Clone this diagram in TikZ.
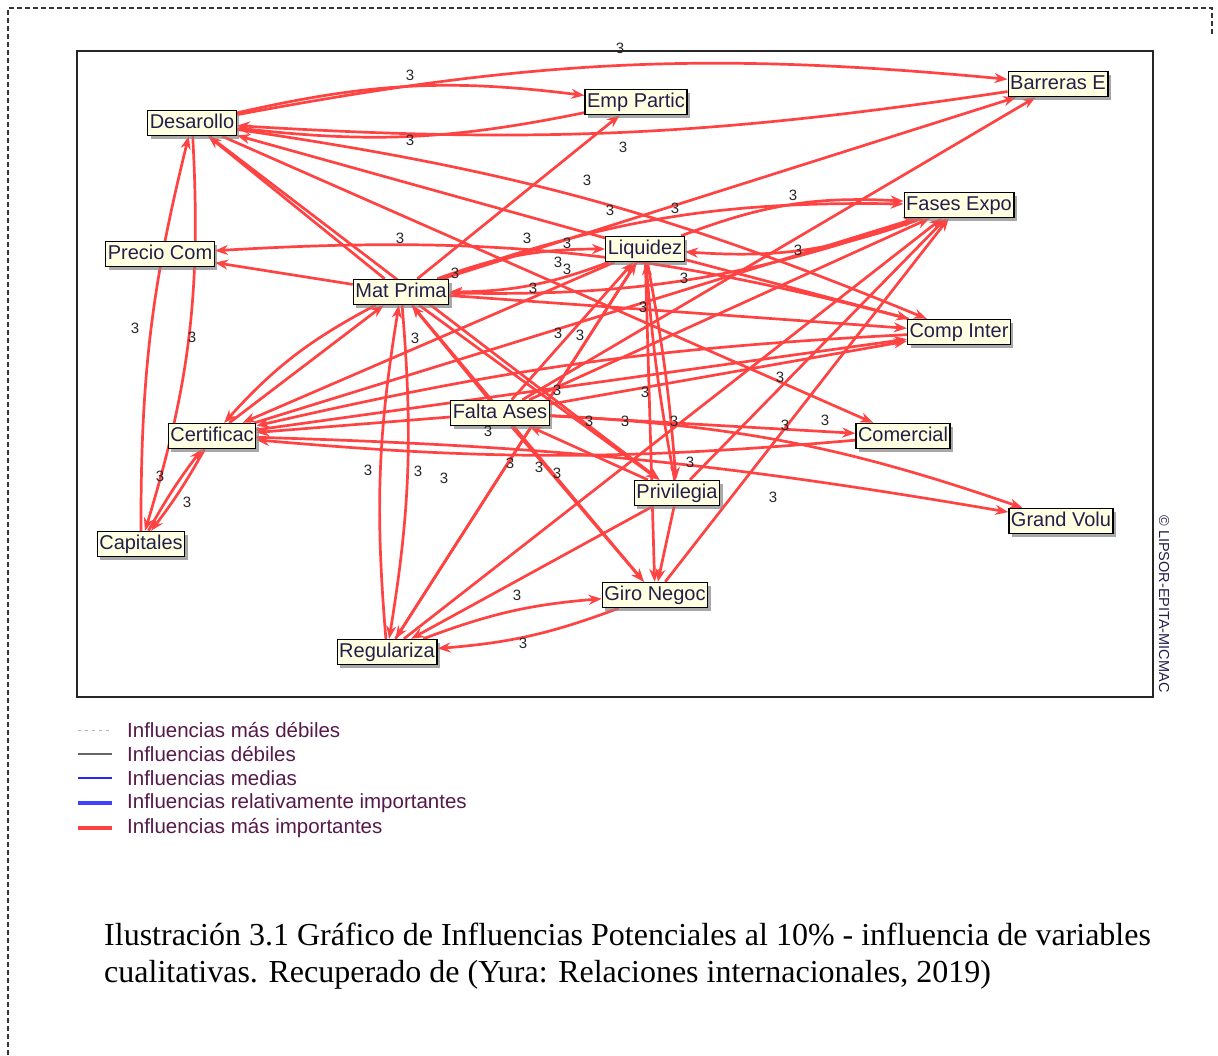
\documentclass[tikz,border=0pt]{standalone}
\usepackage{fontspec}
\setmainfont{Liberation Serif}
\newfontfamily\arial{Liberation Sans}
\usetikzlibrary{arrows.meta,shadows}
\definecolor{edgered}{RGB}{255,66,66}
\definecolor{boxfill}{RGB}{255,255,226}
\definecolor{txtdark}{RGB}{35,30,75}
\definecolor{legtxt}{RGB}{85,25,75}
\begin{document}
\begin{tikzpicture}[x=1pt,y=1pt,
  var/.style={draw=black, line width=1.4pt, fill=boxfill, inner xsep=2pt, inner ysep=3pt,
    text height=14.5pt, text depth=4.5pt, font=\arial\fontsize{20}{20}\selectfont, text=txtdark,
    drop shadow={shadow xshift=3pt, shadow yshift=-3pt, fill=black!45}},
  e/.style={draw=edgered, line width=2.7pt, -{Stealth[length=13pt,width=10pt]}},
  lab/.style={font=\arial\fontsize{15}{15}\selectfont, text=black!85, inner sep=0pt},
  legtext/.style={font=\arial\fontsize{20.5}{20.5}\selectfont, text=legtxt, anchor=west, inner sep=0pt},
  captext/.style={font=\fontsize{32}{32}\selectfont, anchor=base west, inner sep=0pt},
  frame/.style={draw=black!80, line width=1.2pt, dash pattern=on 5pt off 3pt}]
\useasboundingbox (0,0) rectangle (1218,-1055);
% outer dashed frame
\draw[frame] (8,-1055) -- (8,-8) -- (1212,-8) -- (1212,-35);
% inner frame
\draw[black!85, line width=1.5pt] (77,-51) rectangle (1153,-697);
\begin{scope}[every node/.style={var}]
\node (D)  at (192,-123) {Desarollo};
\node (EP) at (636,-102) {Emp Partic};
\node (BE) at (1058,-84) {Barreras E};
\node (FE) at (959,-205) {Fases Expo};
\node (PC) at (160,-254) {Precio Com};
\node (L)  at (645,-249) {Liquidez};
\node (MP) at (401,-292) {Mat Prima};
\node (CI) at (959,-332) {Comp Inter};
\node (FA) at (500,-413) {Falta Ases};
\node (Ce) at (212,-436) {Certificac};
\node (Co) at (903,-436) {Comercial};
\node (P)  at (677,-493) {Privilegia};
\node (GV) at (1061,-521) {Grand Volu};
\node (Ca) at (141,-544) {Capitales};
\node (GN) at (655,-595) {Giro Negoc};
\node (R)  at (387,-652) {Regulariza};
\end{scope}
% connectors
\draw[e] (D) to[bend left=10] (EP);
\draw[e] (EP) to[bend left=9] (D);
\draw[e] (D) to[bend left=8] (BE);
\draw[e] (BE) to[bend left=6] (D);
\draw[e] (D) to[bend left=7] (CI);
\draw[e] (D) -- (Co);
\draw[e] (D) -- (P);
\draw[e] (MP) -- (D);
\draw[e] (L) -- (D);
\draw[e] (Ca) to[bend left=7] (D);
\draw[e] (D) to[bend left=10] (Ca);
\draw[e] (Ce) to[bend left=4] (Ca);
\draw[e] (Ca) to[bend left=4] (Ce);
\draw[e] (MP) -- (PC);
\draw[e] (CI) to[bend right=9] (PC);
\draw[e] (MP) -- (EP);
\draw[e] (MP) -- (BE);
\draw[e] (MP) to[bend left=10] (FE);
\draw[e] (FE) to[bend left=10] (MP);
\draw[e] (L) to[bend left=10] (MP);
\draw[e] (MP) to[bend left=10] (L);
\draw[e] (L) to[bend left=12] (FE);
\draw[e] (FE) to[bend left=12] (L);
\draw[e] (MP) -- (CI);
\draw[e] (MP) to[bend right=10] (Ce);
\draw[e] (Ce) -- (MP);
\draw[e] (MP) to[bend left=7] (R);
\draw[e] (R) to[bend left=7] (MP);
\draw[e] (FA) -- (MP);
\draw[e] (MP) -- (P);
\draw[e] (MP) -- (GN);
\draw[e] (L) -- (Ce);
\draw[e] (L) -- (R);
\draw[e] (R) -- (L);
\draw[e] (L) to[bend left=3] (P);
\draw[e] (P) to[bend left=3] (L);
\draw[e] (L) -- (GN);
\draw[e] (L) -- (CI);
\draw[e] (Ce) -- (FE);
\draw[e] (Ce) -- (CI);
\draw[e] (CI) to[bend right=5] (Ce);
\draw[e] (FA) -- (Ce);
\draw[e] (FA) -- (Co);
\draw[e] (FA) -- (CI);
\draw[e] (FA) -- (FE);
\draw[e] (FA) to[bend left=8] (GV);
\draw[e] (Ce) to[bend left=4] (GV);
\draw[e] (Co) to[bend left=5] (Ce);
\draw[e] (P) -- (FA);
\draw[e] (FA) -- (GN);
\draw[e] (FA) -- (L);
\draw[e] (FA) -- (BE);
\draw[e] (P) -- (GN);
\draw[e] (P) -- (R);
\draw[e] (GN) -- (FE);
\draw[e] (P) -- (FE);
\draw[e] (R) -- (FE);
\draw[e] (R) to[bend left=8] (GN);
\draw[e] (GN) to[bend left=8] (R);
% nodes redrawn on top of the connectors
\begin{scope}[every node/.style={var}]
\node at (D)  {Desarollo};
\node at (EP) {Emp Partic};
\node at (BE) {Barreras E};
\node at (FE) {Fases Expo};
\node at (PC) {Precio Com};
\node at (L)  {Liquidez};
\node at (MP) {Mat Prima};
\node at (CI) {Comp Inter};
\node at (FA) {Falta Ases};
\node at (Ce) {Certificac};
\node at (Co) {Comercial};
\node at (P)  {Privilegia};
\node at (GV) {Grand Volu};
\node at (Ca) {Capitales};
\node at (GN) {Giro Negoc};
\node at (R)  {Regulariza};
\end{scope}
% value labels
\foreach \x/\y [count=\i] in {620/48,410/75,410/140,623/147,587/180,610/210,675/208,793/195,
  400/238,527/238,567/243,798/250,558/262,567/269,455/273,684/278,533/288,643/307,
  135/328,192/337,415/338,558/333,580/335,780/377,557/390,645/392,488/431,589/421,
  625/421,674/421,785/425,825/420,368/470,418/471,444/478,510/463,539/467,557/473,
  690/462,773/497,160/476,187/502,517/595,523/643}
  \node[lab] (v\i) at (\x,-\y) {3};
% copyright
\node[font=\arial\fontsize{14.5}{14.5}\selectfont, text=txtdark, rotate=-90, inner sep=0pt] (cp) at (1164,-604) {\textcopyright\ LIPSOR-EPITA-MICMAC};
% legend
\coordinate (la1) at (78,-730); \coordinate (lb1) at (112,-730);
\coordinate (la2) at (78,-754); \coordinate (lb2) at (112,-754);
\coordinate (la3) at (78,-778); \coordinate (lb3) at (112,-778);
\coordinate (la4) at (78,-803); \coordinate (lb4) at (112,-803);
\coordinate (la5) at (78,-828); \coordinate (lb5) at (112,-828);
\draw[black!30, line width=1pt, dash pattern=on 3pt off 4pt] (la1) -- (lb1);
\draw[black!60, line width=1.3pt] (la2) -- (lb2);
\draw[blue!85, line width=1.2pt] (la3) -- (lb3);
\draw[blue!75, line width=3.2pt] (la4) -- (lb4);
\draw[edgered, line width=3.2pt] (la5) -- (lb5);
\node[legtext] (t1) at (127,-730) {Influencias más débiles};
\node[legtext] (t2) at (127,-754) {Influencias débiles};
\node[legtext] (t3) at (127,-778) {Influencias medias};
\node[legtext] (t4) at (127,-803) {Influencias relativamente importantes};
\node[legtext] (t5) at (127,-828) {Influencias más importantes};
% caption
\node[captext] (c1) at (104,-945) {Ilustración 3.1 Gráfico de Influencias Potenciales al 10\% - influencia de variables};
\node[captext] (c2) at (104,-982) {cualitativas. Recuperado de (Yura: Relaciones internacionales, 2019)};
\end{tikzpicture}
\end{document}
